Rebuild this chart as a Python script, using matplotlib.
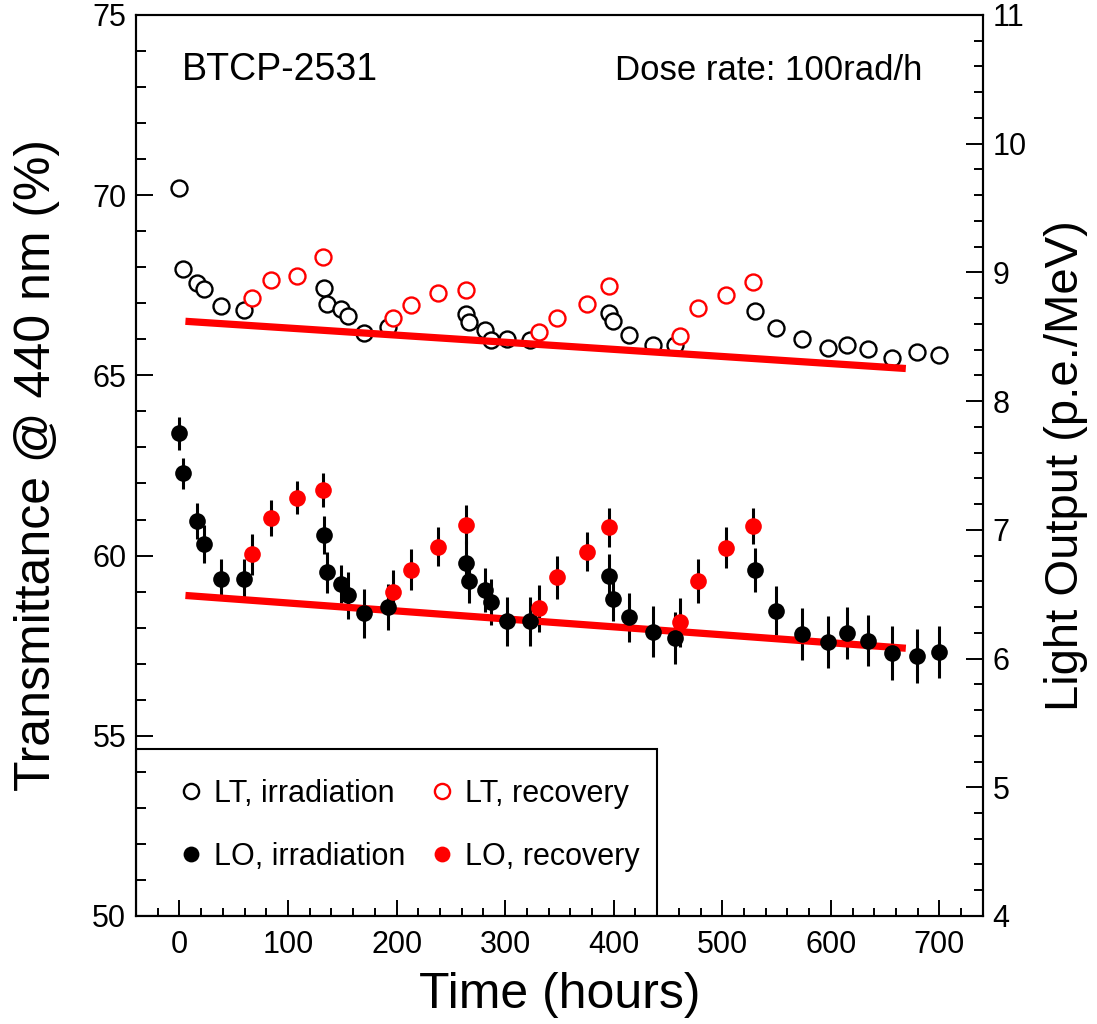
import matplotlib
matplotlib.use('Agg')
import matplotlib.pyplot as plt
from matplotlib.patches import Rectangle
from matplotlib.ticker import MultipleLocator

plt.rcParams['font.family'] = ['Liberation Sans', 'DejaVu Sans']

# irradiation points (hours)
t_irr = [0, 3, 16, 23, 38, 59, 133, 136, 149, 155, 170, 192, 264, 267, 281, 287,
         302, 323, 396, 399, 414, 436, 456, 530, 549, 573, 597, 615, 634, 656, 679, 700]
lt_irr = [70.21, 67.94, 67.56, 67.39, 66.92, 66.81, 67.41, 66.97, 66.83, 66.65, 66.18,
          66.34, 66.69, 66.48, 66.27, 65.97, 66.02, 65.97, 66.73, 66.50, 66.13, 65.85,
          65.83, 66.79, 66.32, 66.00, 65.76, 65.83, 65.74, 65.49, 65.65, 65.56]
lo_irr = [7.75, 7.44, 7.07, 6.89, 6.62, 6.62, 6.96, 6.67, 6.58, 6.49, 6.35, 6.40, 6.74,
          6.60, 6.53, 6.44, 6.29, 6.29, 6.64, 6.46, 6.32, 6.21, 6.16, 6.69, 6.37, 6.19,
          6.13, 6.20, 6.14, 6.04, 6.02, 6.05]
lo_irr_err = [0.13, 0.12, 0.14, 0.15, 0.15, 0.15, 0.15, 0.16, 0.15, 0.18, 0.19, 0.18,
              0.17, 0.17, 0.17, 0.18, 0.19, 0.19, 0.17, 0.17, 0.19, 0.20, 0.20, 0.17,
              0.19, 0.20, 0.20, 0.20, 0.20, 0.21, 0.21, 0.20]

# recovery points
t_rec = [67, 84, 108, 132, 197, 213, 238, 264, 331, 348, 375, 396, 461, 478, 503, 528]
lt_rec = [67.16, 67.64, 67.76, 68.28, 66.58, 66.95, 67.29, 67.38, 66.20, 66.60, 66.97,
          67.48, 66.08, 66.87, 67.24, 67.58]
lo_rec = [6.81, 7.09, 7.25, 7.31, 6.52, 6.69, 6.87, 7.04, 6.39, 6.63, 6.83, 7.02, 6.28,
          6.60, 6.86, 7.03]
lo_rec_err = [0.16, 0.14, 0.13, 0.13, 0.17, 0.16, 0.15, 0.15, 0.18, 0.17, 0.15, 0.15,
              0.19, 0.17, 0.16, 0.14]

# linear fits
fit_t = [5.5, 669]
lt_fit = [66.50, 65.19]
lo_fit = [6.49, 6.08]

fig = plt.figure(figsize=(10.97, 10.24), dpi=100)
ax = fig.add_axes([0.124, 0.1055, 0.772, 0.8799])
ax2 = ax.twinx()

ax.plot(t_irr, lt_irr, 'o', ms=11.5, mfc='white', mec='black', mew=1.7,
        label='LT, irradiation')
ax.plot(t_rec, lt_rec, 'o', ms=11.5, mfc='white', mec='red', mew=1.7,
        label='LT, recovery')
ax.plot(fit_t, lt_fit, color='red', lw=5.2, solid_capstyle='butt')

e1 = ax2.errorbar(t_irr, lo_irr, yerr=lo_irr_err, fmt='o', ms=12, mfc='black',
                  mec='black', mew=0, ecolor='black', elinewidth=2.2, capsize=0,
                  label='LO, irradiation')
e2 = ax2.errorbar(t_rec, lo_rec, yerr=lo_rec_err, fmt='o', ms=12, mfc='red',
                  mec='red', mew=0, ecolor='black', elinewidth=2.2, capsize=0,
                  label='LO, recovery')
ax2.plot(fit_t, lo_fit, color='red', lw=5.2, solid_capstyle='butt')

ax.set_xlim(-40, 740)
ax.set_ylim(50, 75)
ax2.set_ylim(4, 11)

ax.xaxis.set_major_locator(MultipleLocator(100))
ax.xaxis.set_minor_locator(MultipleLocator(20))
ax.yaxis.set_major_locator(MultipleLocator(5))
ax.yaxis.set_minor_locator(MultipleLocator(1))
ax2.yaxis.set_major_locator(MultipleLocator(1))
ax2.yaxis.set_minor_locator(MultipleLocator(0.2))

ax.tick_params(axis='y', which='major', direction='in', length=12, width=1.4,
               labelsize=22, pad=7, right=False)
ax.tick_params(axis='y', which='minor', direction='in', length=7, width=1.4, right=False)
ax.tick_params(axis='x', which='major', direction='in', length=11.5, width=1.4,
               labelsize=22, pad=10, top=False)
ax.tick_params(axis='x', which='minor', direction='in', length=6, width=1.4, top=False)
ax2.tick_params(axis='y', which='major', direction='in', length=12, width=1.4,
                labelsize=22, pad=7)
ax2.tick_params(axis='y', which='minor', direction='in', length=6.5, width=1.4)
for a in (ax, ax2):
    for s in a.spines.values():
        s.set_linewidth(1.5)

ax.set_xlabel('Time (hours)', fontsize=36)
ax.xaxis.set_label_coords(0.5, -0.062)
ax.set_ylabel('Transmittance @ 440 nm (%)', fontsize=36)
ax.yaxis.set_label_coords(-0.09, 0.5)
ax2.set_ylabel('Light Output (p.e./MeV)', fontsize=34)
ax2.yaxis.set_label_coords(1.072, 0.5)

ax2.text(2, 73.19, 'BTCP-2531', fontsize=27, va='baseline', ha='left',
         transform=ax.transData)
ax2.text(401, 73.19, 'Dose rate: 100rad/h', fontsize=25, va='baseline', ha='left',
         transform=ax.transData)

# legend box
ax2.add_patch(Rectangle((0, 0), 0.615, 0.1856, transform=ax2.transAxes, fill=False,
                        ec='black', lw=1.5, zorder=10))
h1, l1 = ax.get_legend_handles_labels()
handles = [h1[0], e1[0], h1[1], e2[0]]
labels = ['LT, irradiation', 'LO, irradiation', 'LT, recovery', 'LO, recovery']
leg = ax2.legend(handles, labels, ncol=2, loc='upper left',
                 bbox_to_anchor=(0.047, 0.1525), frameon=False, fontsize=22,
                 handlelength=1.0, handletextpad=0.25, columnspacing=0.7,
                 labelspacing=1.1, borderpad=0, borderaxespad=0, markerscale=0.95)
leg.set_zorder(11)

fig.savefig('out.png', dpi=100)
